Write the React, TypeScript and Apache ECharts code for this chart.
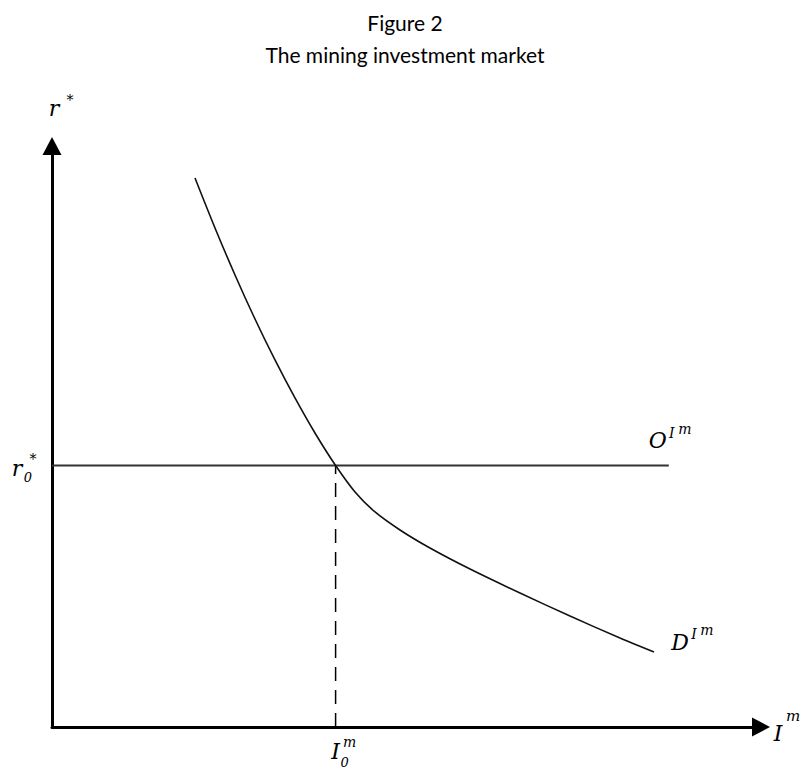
import React, { useEffect, useRef } from "react";
import * as echarts from "echarts";

// Axis ranges (abstract units)
const xRange = [0, 100];
const yRange = [0, 100];

// Demand curve D^{I^m}
const demandX = [20.17, 22.99, 25.81, 28.63, 31.45, 34.27, 37.09, 40, 42.74, 45.56, 49.08, 53.31, 58.96, 66.01, 73.06, 80.11, 84.91];
const demandY = [94.49, 85.89, 77.8, 70.22, 63.17, 56.63, 50.6, 45, 40.45, 37.01, 33.91, 30.81, 27.19, 23.06, 19.1, 15.32, 12.91];

// Supply line O^{I^m} (horizontal at r0*)
const r0 = 45;
const supplyX = [0, 87];

// Equilibrium investment I0^m
const i0 = 40;

const titleLines = ["Figure 2", "The mining investment market"];

export default function App() {
  const ref = useRef<HTMLDivElement>(null);
  useEffect(() => {
    if (!ref.current) return;
    const chart = echarts.init(ref.current, null, { renderer: "svg" });
    const axisLine = (sym: string[]) => ({
      show: true,
      symbol: sym,
      symbolSize: [19, 18],
      lineStyle: { color: "#000", width: 3 },
    });
    chart.setOption({
      animation: false,
      backgroundColor: "#fff",
      title: {
        text: titleLines.join("\n"),
        left: "center",
        top: 1,
        textStyle: {
          fontFamily: "Lato",
          fontWeight: "normal",
          fontSize: 21,
          lineHeight: 32,
          color: "#000",
        },
      },
      grid: { left: 52, right: 49, top: 146, bottom: 44, containLabel: false },
      xAxis: {
        type: "value",
        min: xRange[0],
        max: xRange[1],
        axisLine: axisLine(["none", "triangle"]),
        axisTick: { show: false },
        axisLabel: { show: false },
        splitLine: { show: false },
      },
      yAxis: {
        type: "value",
        min: yRange[0],
        max: yRange[1],
        axisLine: axisLine(["none", "triangle"]),
        axisTick: { show: false },
        axisLabel: { show: false },
        splitLine: { show: false },
      },
      series: [
        {
          type: "line",
          data: supplyX.map((x) => [x, r0]),
          symbol: "none",
          lineStyle: { color: "#333", width: 2 },
          z: 3,
        },
        {
          type: "line",
          data: [
            [i0, 0],
            [i0, r0],
          ],
          symbol: "none",
          lineStyle: { color: "#000", width: 1.5, type: [14, 9] },
          z: 2,
        },
        {
          type: "line",
          data: demandX.map((x, i) => [x, demandY[i]]),
          symbol: "none",
          smooth: 0.3,
          lineStyle: { color: "#111", width: 1.6 },
          z: 4,
        },
      ],
    });

    const px = (p: number[]) => chart.convertToPixel({ gridIndex: 0 }, p) as number[];
    const serif = "DejaVu Serif";
    const t = (text: string, x: number, y: number, size: number) => ({
      type: "text",
      x,
      y,
      style: {
        text,
        fontFamily: serif,
        fontStyle: "italic",
        fontSize: size,
        fill: "#000",
        align: "center",
        verticalAlign: "middle",
        textAlign: "center",
        textVerticalAlign: "middle",
      },
    });
    const yTop = px([0, yRange[1]]);
    const r0P = px([0, r0]);
    const sEnd = px([supplyX[1], r0]);
    const dEnd = px([demandX[demandX.length - 1], demandY[demandY.length - 1]]);
    const xEnd = px([xRange[1], 0]);
    const i0P = px([i0, 0]);
    const big = 22;
    const sup = 14;
    chart.setOption({
      graphic: [
        // r*
        t("r", yTop[0] + 2, yTop[1] - 38, big),
        t("*", yTop[0] + 18, yTop[1] - 46, sup),
        // r0*
        t("r", r0P[0] - 35, r0P[1] + 3, big),
        t("0", r0P[0] - 24, r0P[1] + 12, sup - 1),
        t("*", r0P[0] - 19, r0P[1] - 7, sup),
        // O^{I^m}
        t("O", sEnd[0] - 11, sEnd[1] - 25, big),
        t("I", sEnd[0] + 3, sEnd[1] - 33, sup),
        t("m", sEnd[0] + 16, sEnd[1] - 37, sup),
        // D^{I^m}
        t("D", dEnd[0] + 26, dEnd[1] - 9, big),
        t("I", dEnd[0] + 40, dEnd[1] - 18, sup),
        t("m", dEnd[0] + 53, dEnd[1] - 22, sup),
        // I^m
        t("I", xEnd[0] + 17, xEnd[1] + 6, big),
        t("m", xEnd[0] + 32, xEnd[1] - 11, sup + 1),
        // I0^m
        t("I", i0P[0], i0P[1] + 24, big),
        t("0", i0P[0] + 9, i0P[1] + 35, sup - 1),
        t("m", i0P[0] + 14, i0P[1] + 15, sup),
      ],
    });
    return () => chart.dispose();
  }, []);
  return (
    <div
      ref={ref}
      style={{ position: "fixed", left: 0, top: 0, width: 810, height: 771, background: "#fff" }}
    />
  );
}
